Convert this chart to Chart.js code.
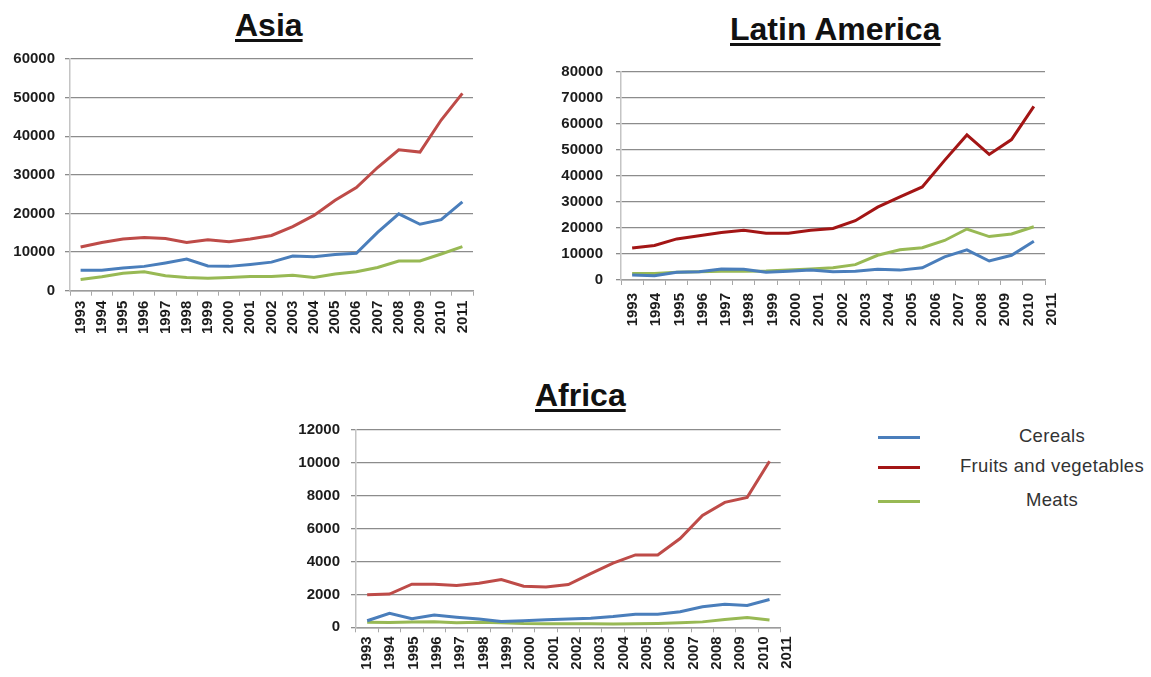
<!DOCTYPE html>
<html>
<head>
<meta charset="utf-8">
<title>Food imports by region, 1993–2011</title>
<script src="https://cdn.jsdelivr.net/npm/chart.js@4.4.1/dist/chart.umd.min.js"></script>
<style>
  html, body { margin: 0; padding: 0; background: #fff; }
  body { position: relative; width: 1151px; height: 677px; overflow: hidden;
         font-family: "Liberation Sans", Arial, sans-serif; }
  canvas { position: absolute; }
  .title { position: absolute; font-weight: bold; font-size: 32px; line-height: 32px; color: #111;
           text-decoration: underline; text-decoration-thickness: 3px; text-underline-offset: 3px;
           white-space: nowrap; }
  #legend { position: absolute; left: 870px; top: 424px; width: 281px; }
  .item { position: absolute; left: 0; width: 281px; height: 28px; }
  .swatch { position: absolute; left: 8px; top: 12px; width: 42px; height: 0; border-top: 3px solid; }
  .name { position: absolute; left: 82px; width: 200px; top: 0; line-height: 24px; text-align: center;
          font-size: 18.5px; letter-spacing: 0.35px; color: #333; white-space: nowrap; }
</style>
</head>
<body>
<div class="title" style="left:235px;top:9px">Asia</div>
<div class="title" style="left:730px;top:13px">Latin America</div>
<div class="title" style="left:535px;top:379px">Africa</div>

<canvas id="asia" width="490" height="320" style="left:0;top:40px"></canvas>
<canvas id="latam" width="520" height="300" style="left:550px;top:50px"></canvas>
<canvas id="africa" width="520" height="267" style="left:280px;top:410px"></canvas>

<div id="legend"></div>

<script>
// Years on the category axis
const years = ['1993','1994','1995','1996','1997','1998','1999','2000','2001','2002',
               '2003','2004','2005','2006','2007','2008','2009','2010','2011'];
const seriesNames = ['Cereals', 'Fruits and vegetables', 'Meats'];

// Asia
const asiaCereals = [5300, 5300, 5900, 6300, 7200, 8200, 6400, 6300, 6800, 7400,
                     9000, 8800, 9400, 9700, 15100, 19900, 17200, 18400, 23000];
const asiaFruitsVeg = [11300, 12500, 13400, 13800, 13500, 12500, 13200, 12700, 13400, 14300,
                       16600, 19500, 23400, 26700, 31900, 36500, 35900, 44200, 51100];
const asiaMeats = [2900, 3600, 4500, 4900, 3900, 3400, 3200, 3400, 3700, 3700,
                   4000, 3400, 4300, 4900, 6000, 7700, 7700, 9500, 11400];

// Latin America
const latamCereals = [1900, 1600, 3000, 3200, 4200, 4100, 3000, 3400, 3800, 3200,
                      3400, 4100, 3800, 4700, 8900, 11600, 7300, 9500, 14900];
const latamFruitsVeg = [12300, 13300, 15800, 17000, 18300, 19100, 18000, 18000, 19100, 19800,
                        22800, 28000, 32000, 35800, 46000, 55800, 48300, 54000, 66800];
const latamMeats = [2500, 2500, 3000, 3200, 3400, 3400, 3500, 3800, 4200, 4700,
                    5900, 9500, 11600, 12400, 15200, 19600, 16700, 17700, 20500];

// Africa
const africaCereals = [400, 850, 520, 750, 610, 500, 360, 400, 460, 510,
                       550, 650, 790, 790, 950, 1250, 1400, 1330, 1690];
const africaFruitsVeg = [1980, 2020, 2620, 2620, 2550, 2680, 2900, 2500, 2450, 2600,
                         3270, 3900, 4400, 4400, 5400, 6800, 7600, 7900, 10100];
const africaMeats = [300, 290, 320, 330, 280, 300, 280, 230, 220, 220,
                     210, 200, 210, 230, 270, 330, 480, 600, 450];

// Series colours
const blue = '#4A7EBB';
const red = '#BE4B48';
const darkRed = '#A31515';
const green = '#98B954';

const FONT = '"Liberation Sans", Arial, sans-serif';
const tickFont = { family: FONT, size: 15, weight: 'bold' };
const tickColor = '#1c1c1c';

function lineChart(id, series, colors, yMax, yStep, box) {
  // The year captions sit on their own numeric axis under the category axis,
  // spread over box.yearRange, so their spacing can differ slightly from the data pitch.
  const yearAxis = {
    type: 'linear',
    position: 'bottom',
    weight: 1,
    min: box.yearRange[0],
    max: box.yearRange[1],
    grid: { display: false, drawTicks: false },
    border: { display: false },
    ticks: { minRotation: 90, maxRotation: 90, autoSkip: false, padding: box.xPad,
             color: tickColor, font: tickFont, callback: v => String(v) },
    afterBuildTicks: s => { s.ticks = years.map(y => ({ value: Number(y) })); },
    afterFit: s => {
      s.height = box.xHeight - 5;
      // a caption may hang past the plot edge; don't let it shrink the plot
      s.paddingLeft = 0;
      s.paddingRight = 0;
    }
  };

  return new Chart(document.getElementById(id), {
    type: 'line',
    data: {
      labels: years,
      datasets: series.map((values, i) => ({
        label: seriesNames[i],
        data: values,
        borderColor: colors[i],
        backgroundColor: colors[i],
        borderWidth: 3,
        pointRadius: 0,
        tension: 0,
        fill: false
      }))
    },
    options: {
      responsive: false,
      animation: false,
      layout: { padding: { top: box.padTop, right: box.padRight, left: 0, bottom: 0 } },
      plugins: { legend: { display: false }, tooltip: { enabled: false } },
      scales: {
        x: {
          type: 'category',
          position: 'bottom',
          weight: 0,
          offset: true,
          grid: { offset: true, drawOnChartArea: false, drawTicks: true, tickLength: 5,
                  color: '#a8a8a8', lineWidth: 1 },
          border: { color: '#9c9c9c', width: 1.5 },
          ticks: { display: false },
          afterFit: s => { s.height = 5; s.paddingLeft = 0; s.paddingRight = 0; }
        },
        years: yearAxis,
        y: {
          min: 0,
          max: yMax,
          grid: { color: '#8c8c8c', lineWidth: 1.3, tickLength: 5 },
          border: { color: '#c4c4c4', width: 1.5 },
          ticks: { stepSize: yStep, padding: box.yPad, color: tickColor, font: tickFont,
                   callback: v => String(v) },
          afterFit: s => { s.width = box.yWidth; }
        }
      }
    }
  });
}

lineChart('asia', [asiaCereals, asiaFruitsVeg, asiaMeats], [blue, red, green], 60000, 10000,
  { padTop: 16, padRight: 17, yWidth: 70, xHeight: 69.3, yPad: 10, xPad: 5,
    yearRange: [1992.5, 2011.5] });

lineChart('latam', [latamCereals, latamFruitsVeg, latamMeats], [blue, darkRed, green], 80000, 10000,
  { padTop: 17.3, padRight: 25, yWidth: 71, xHeight: 70, yPad: 13, xPad: 8,
    yearRange: [1992.484, 2010.705] });

lineChart('africa', [africaCereals, africaFruitsVeg, africaMeats], [blue, red, green], 12000, 2000,
  { padTop: 15.7, padRight: 19.3, yWidth: 76, xHeight: 49.7, yPad: 11, xPad: 4,
    yearRange: [1992.528, 2010.74] });

// Shared legend
const legendColors = [blue, darkRed, green];
const legendTops = [0, 30, 64];
const legend = document.getElementById('legend');
seriesNames.forEach((name, i) => {
  const item = document.createElement('div');
  item.className = 'item';
  item.style.top = legendTops[i] + 'px';
  const sw = document.createElement('span');
  sw.className = 'swatch';
  sw.style.borderColor = legendColors[i];
  const tx = document.createElement('span');
  tx.className = 'name';
  tx.textContent = name;
  item.appendChild(sw);
  item.appendChild(tx);
  legend.appendChild(item);
});
</script>
</body>
</html>
